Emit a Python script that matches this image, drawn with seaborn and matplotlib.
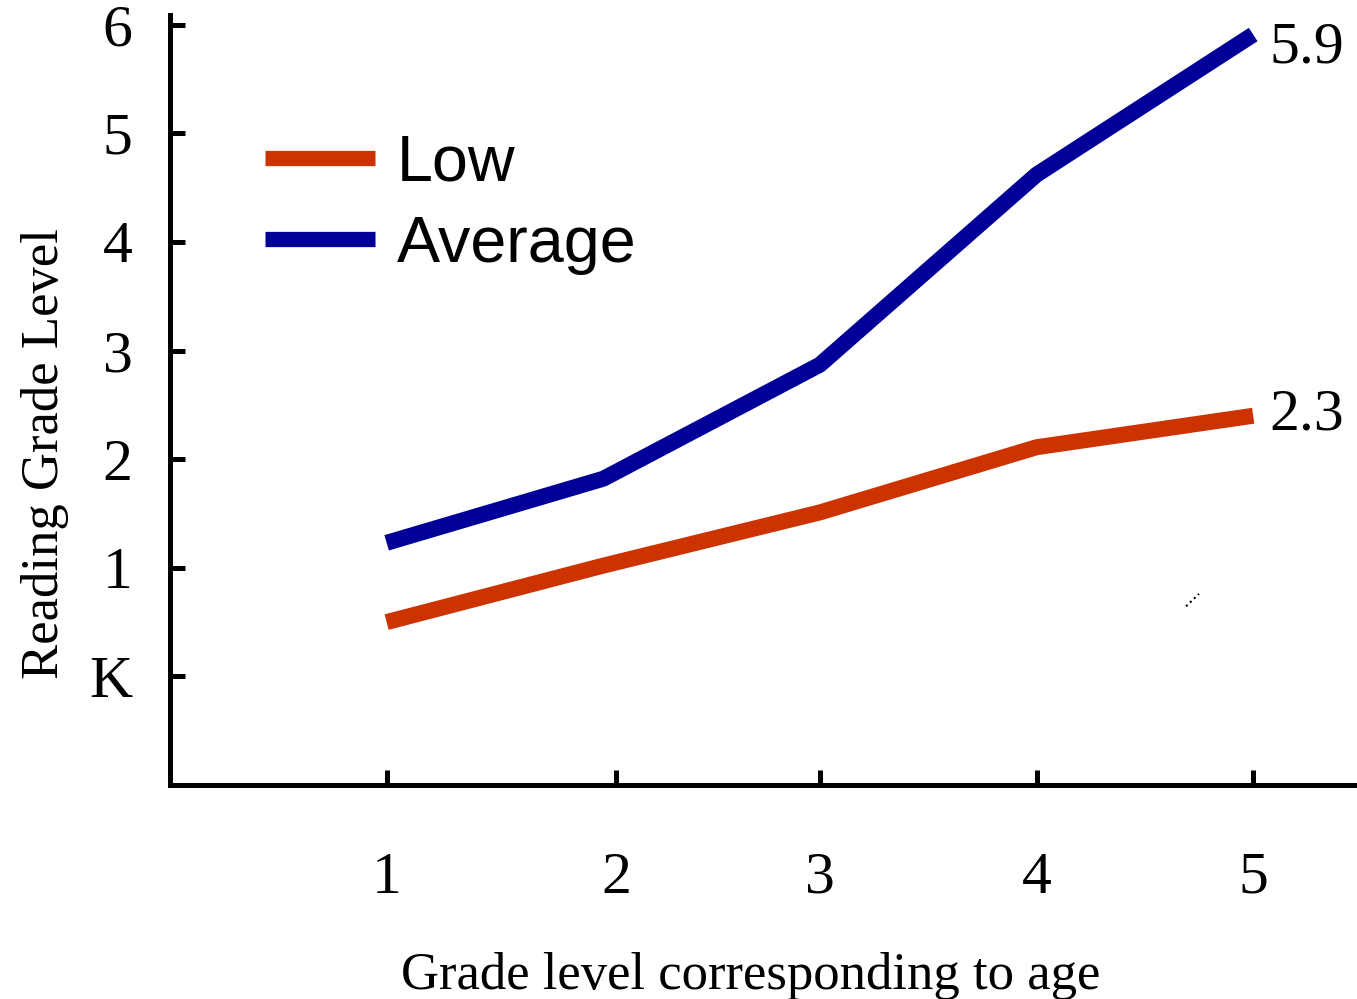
import pandas as pd
import seaborn as sns
import matplotlib.pyplot as plt

# data
grades = [1, 2, 3, 4, 5]
low = [0.5, 1.02, 1.51, 2.11, 2.4]
average = [1.23, 1.82, 2.87, 4.62, 5.91]
x_tick_pos = [1, 2.06, 3, 4, 5]
x_tick_labels = ['1', '2', '3', '4', '5']
y_ticks = [0, 1, 2, 3, 4, 5, 6]
y_tick_labels = ['K', '1', '2', '3', '4', '5', '6']
end_labels = {'Low': '2.3', 'Average': '5.9'}
colors = {'Low': '#CC3300', 'Average': '#000099'}

df = pd.DataFrame({
    'grade': grades * 2,
    'level': low + average,
    'group': ['Low'] * len(grades) + ['Average'] * len(grades),
})

sns.set_style('white')
plt.rcParams['font.family'] = ['Liberation Serif', 'DejaVu Serif']
plt.rcParams['text.color'] = 'black'
plt.rcParams['axes.labelcolor'] = 'black'
plt.rcParams['xtick.color'] = 'black'
plt.rcParams['ytick.color'] = 'black'

fig = plt.figure(figsize=(13.57, 9.99), dpi=100)
ax = fig.add_axes([170 / 1357, 1 - 785 / 999, (1355 - 170) / 1357, (785 - 15) / 999])

sns.lineplot(data=df, x='grade', y='level', hue='group', palette=colors,
             linewidth=11.5, ax=ax, legend=False, solid_capstyle='butt')

# end-of-line value labels (the 5.9 sits a little below its line end)
for grp, vals, dy in [('Low', low, 0), ('Average', average, -10)]:
    ax.annotate(end_labels[grp], xy=(grades[-1], vals[-1]), xytext=(12, dy),
                textcoords='offset points', fontsize=43, va='center', ha='left',
                color='black')

# stray dotted mark in the original
ax.plot([4.69, 4.75], [0.645, 0.76], color='black', linestyle=':', linewidth=1.5)

ax.set_xlim(0, 5.47)
ax.set_ylim(-1, 6.09)
ax.set_xticks(x_tick_pos)
ax.set_xticklabels(x_tick_labels)
ax.set_yticks(y_ticks)
ax.set_yticklabels(y_tick_labels)
ax.tick_params(axis='both', direction='in', length=11, width=3.6, labelsize=43,
               bottom=True, left=True, colors='black')
ax.tick_params(axis='x', pad=48)
ax.tick_params(axis='y', pad=27)

for side in ['top', 'right']:
    ax.spines[side].set_visible(False)
for side in ['left', 'bottom']:
    ax.spines[side].set_linewidth(3.6)
    ax.spines[side].set_color('black')

ax.set_xlabel('Grade level corresponding to age', fontsize=38, labelpad=33)
ax.xaxis.label.set_x(0.49)
ax.set_ylabel('Reading Grade Level', fontsize=38, labelpad=15)
ax.yaxis.label.set_y(0.43)

handles = [plt.Line2D([], [], color=colors[g], linewidth=11, solid_capstyle='butt')
           for g in ['Low', 'Average']]
leg = ax.legend(handles, ['Low', 'Average'], loc='upper left', bbox_to_anchor=(0.031, 0.921),
                frameon=False, handlelength=1.7, handletextpad=0.34, labelspacing=0.32,
                prop={'family': 'Liberation Sans', 'size': 46.5})
for t in leg.get_texts():
    t.set_color('black')

fig.savefig('out.png', dpi=100)
